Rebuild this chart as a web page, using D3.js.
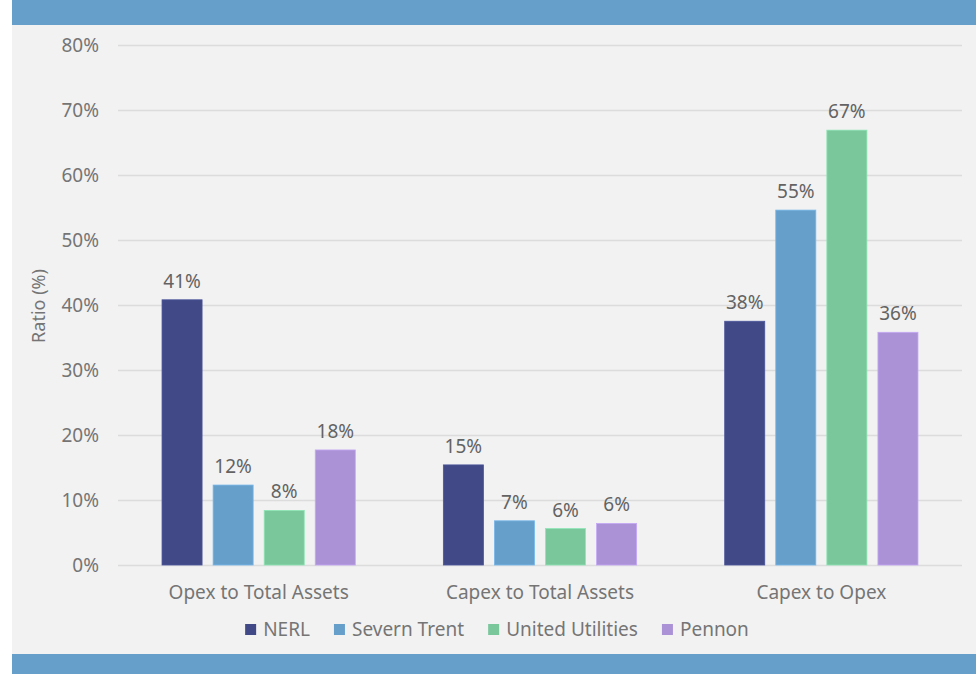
<!DOCTYPE html>
<html>
<head>
<meta charset="utf-8">
<script src="https://cdn.jsdelivr.net/npm/d3@7"></script>
<style>
  html, body { margin: 0; padding: 0; background: #ffffff; }
  svg { display: block; }
  text { font-family: "Noto Sans", "Open Sans", sans-serif; }
</style>
</head>
<body>
<svg id="chart" width="978" height="674"></svg>
<script>
// Ratio categories and the four companies compared
const categories = ["Opex to Total Assets", "Capex to Total Assets", "Capex to Opex"];
const companies = ["NERL", "Severn Trent", "United Utilities", "Pennon"];

// Ratio values (%) per company, in category order
const nerl = [40.8, 15.4, 37.5];
const severnTrent = [12.3, 6.8, 54.6];
const unitedUtilities = [8.4, 5.6, 66.9];
const pennon = [17.7, 6.4, 35.8];

const yTicks = [0, 10, 20, 30, 40, 50, 60, 70, 80];
const colors = ["#414a86", "#679fcb", "#7ac79c", "#ab92d6"];

const seriesValues = [nerl, severnTrent, unitedUtilities, pennon];
const rows = categories.map((c, i) => ({
  category: c,
  values: companies.map((name, j) => ({ name, value: seriesValues[j][i] }))
}));

const svg = d3.select("#chart");
const W = 978, H = 674;
const plot = { left: 118, right: 962, top: 45, bottom: 565 };
const textColor = "#757575";
const fs = 19;

// Panel background and the blue header / footer bands
svg.append("rect").attr("x", 12).attr("y", 0).attr("width", 964).attr("height", H).attr("fill", "#f2f2f2");
svg.append("rect").attr("x", 12).attr("y", 0).attr("width", 964).attr("height", 25).attr("fill", "#679fcb");
svg.append("rect").attr("x", 12).attr("y", 654).attr("width", 964).attr("height", 20).attr("fill", "#679fcb");

const x0 = d3.scaleBand().domain(categories).range([plot.left, plot.right]).paddingInner(0).paddingOuter(0);
const x1 = d3.scaleBand().domain(companies).range([0, x0.bandwidth()]).paddingInner(0.216).paddingOuter(0.862);
const y = d3.scaleLinear().domain([0, 80]).range([plot.bottom, plot.top]);
const color = d3.scaleOrdinal().domain(companies).range(colors);

// Horizontal gridlines with percentage tick labels
const yAxis = d3.axisLeft(y).tickValues(yTicks).tickFormat(d => d + "%")
  .tickSize(-(plot.right - plot.left)).tickPadding(19);
const gy = svg.append("g").attr("transform", `translate(${plot.left},0)`).call(yAxis);
gy.select(".domain").remove();
gy.selectAll(".tick line").attr("stroke", "#dcdcdc").attr("stroke-width", 1.3);
gy.selectAll(".tick text").attr("fill", textColor).attr("font-size", fs).attr("dy", "0.34em");

// Category axis labels
const gx = svg.append("g").attr("transform", `translate(0,${plot.bottom})`)
  .call(d3.axisBottom(x0).tickSize(0).tickPadding(21));
gx.select(".domain").remove();
gx.selectAll(".tick text").attr("fill", textColor).attr("font-size", fs);

// Y-axis title
svg.append("text")
  .attr("transform", `translate(45,${(plot.top + plot.bottom) / 2 + 1}) rotate(-90)`)
  .attr("text-anchor", "middle").attr("fill", textColor).attr("font-size", 18)
  .text("Ratio (%)");

// Grouped bars with value labels
const groups = svg.append("g").selectAll("g").data(rows).join("g")
  .attr("transform", d => `translate(${x0(d.category)},0)`);

groups.selectAll("rect").data(d => d.values).join("rect")
  .attr("x", d => x1(d.name))
  .attr("y", d => y(d.value))
  .attr("width", x1.bandwidth())
  .attr("height", d => y(0) - y(d.value))
  .attr("fill", d => color(d.name))
  .attr("stroke", d => d3.color(color(d.name)).brighter(0.4))
  .attr("stroke-width", 0.8);

groups.selectAll("text").data(d => d.values).join("text")
  .attr("x", d => x1(d.name) + x1.bandwidth() / 2)
  .attr("y", d => y(d.value) - 12)
  .attr("text-anchor", "middle")
  .attr("fill", "#636363").attr("font-size", fs)
  .text(d => Math.round(d.value) + "%");

// Legend row under the category labels
const legend = svg.append("g").attr("transform", "translate(0,629)");
const items = legend.selectAll("g").data(companies).join("g");
items.append("rect").attr("width", 11).attr("height", 11).attr("y", -5)
  .attr("fill", d => color(d));
items.append("text").attr("x", 18).attr("dy", "0.35em")
  .attr("fill", textColor).attr("font-size", fs).text(d => d);
const gap = 24;
let widths = [];
items.each(function () { widths.push(this.getBBox().width); });
const total = d3.sum(widths) + gap * (widths.length - 1);
let cx = 497 - total / 2;
items.attr("transform", (d, i) => {
  const t = `translate(${cx},0)`;
  cx += widths[i] + gap;
  return t;
});
</script>
</body>
</html>
